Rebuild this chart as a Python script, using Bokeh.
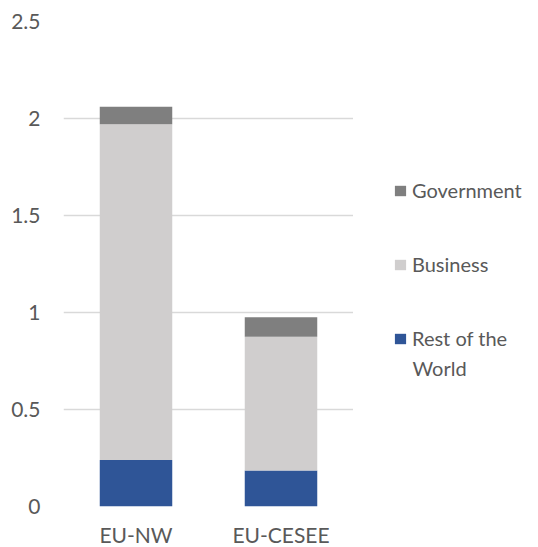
from bokeh.plotting import figure
from bokeh.models import (FactorRange, Range1d, Legend, LegendItem, ColumnDataSource,
                          FixedTicker, Label)
from bokeh.layouts import row
from bokeh.embed import file_html
from bokeh.resources import INLINE

regions = ["EU-NW", "EU-CESEE"]
rest_of_world = [0.24, 0.185]
business = [1.73, 0.69]
government = [0.09, 0.10]
series = ["rest", "business", "government"]
series_labels = ["Rest of the", "Business", "Government"]
label_second_line = "World"
colors = ["#2F5597", "#D0CECE", "#7F7F7F"]
y_ticks = [0, 0.5, 1, 1.5, 2, 2.5]

FONT = "Lato"
TXT = "#595959"

source = ColumnDataSource(dict(region=regions, rest=rest_of_world,
                               business=business, government=government))

p = figure(x_range=FactorRange(*regions), y_range=Range1d(0, 2.5),
           width=353, height=547, frame_width=290, frame_height=485,
           min_border_left=63, min_border_top=21, min_border_bottom=41,
           min_border_right=0,
           output_backend="svg", toolbar_location=None)
p.outline_line_color = None
p.background_fill_color = "white"
p.border_fill_color = "white"

renderers = p.vbar_stack(series, x="region", width=0.5, source=source,
                         color=colors, line_color=None)

p.yaxis.ticker = FixedTicker(ticks=y_ticks)
p.yaxis.major_label_overrides = {0: "0", 0.5: "0.5", 1: "1", 1.5: "1.5", 2: "2", 2.5: "2.5"}
for ax in (p.xaxis[0], p.yaxis[0]):
    ax.axis_line_color = None
    ax.major_tick_line_color = None
    ax.minor_tick_line_color = None
    ax.major_tick_in = 0
    ax.major_tick_out = 0
    ax.major_label_text_font = FONT
    ax.major_label_text_font_size = "21px"
    ax.major_label_text_color = TXT
p.yaxis.major_label_standoff = 23
p.xaxis.major_label_standoff = 15

p.xgrid.grid_line_color = None
p.ygrid.grid_line_color = "#D9D9D9"
p.ygrid.grid_line_width = 1.5

# Legend panel: a separate figure so that the key is not clipped by the chart frame.
# Its key renderers share the data but are hidden, so only the legend shows.
lg = figure(width=185, height=547, x_range=FactorRange(*regions), y_range=Range1d(0, 2.5),
            x_axis_type=None, y_axis_type=None,
            min_border_left=0, min_border_right=0, min_border_top=0, min_border_bottom=0,
            output_backend="svg", toolbar_location=None)
lg.outline_line_color = None
lg.xgrid.visible = False
lg.ygrid.visible = False
lg.border_fill_color = "white"
lg.background_fill_color = "white"

key_renderers = lg.vbar_stack(series, x="region", width=0.5, source=source,
                              color=colors, line_color=None)
for r in key_renderers:
    r.visible = False

items = [LegendItem(label=series_labels[i], renderers=[key_renderers[i]]) for i in (2, 1, 0)]
legend = Legend(items=items, location=(40, 154))
legend.margin = 0
legend.padding = 0
legend.border_line_color = None
legend.background_fill_alpha = 0
legend.inactive_fill_alpha = 0
legend.glyph_width = 14
legend.glyph_height = 13
legend.label_standoff = 5
legend.label_text_font = FONT
legend.label_text_font_size = "20px"
legend.label_text_color = TXT
legend.label_height = 20
legend.spacing = 50
lg.add_layout(legend, "center")

world = Label(x=59, y=137, x_units="screen", y_units="screen", text=label_second_line,
              text_font=FONT, text_font_size="20px", text_color=TXT,
              text_baseline="middle", text_align="left")
lg.add_layout(world)

layout = row(p, lg, spacing=0)
open("out.html", "w").write(file_html(layout, INLINE))
